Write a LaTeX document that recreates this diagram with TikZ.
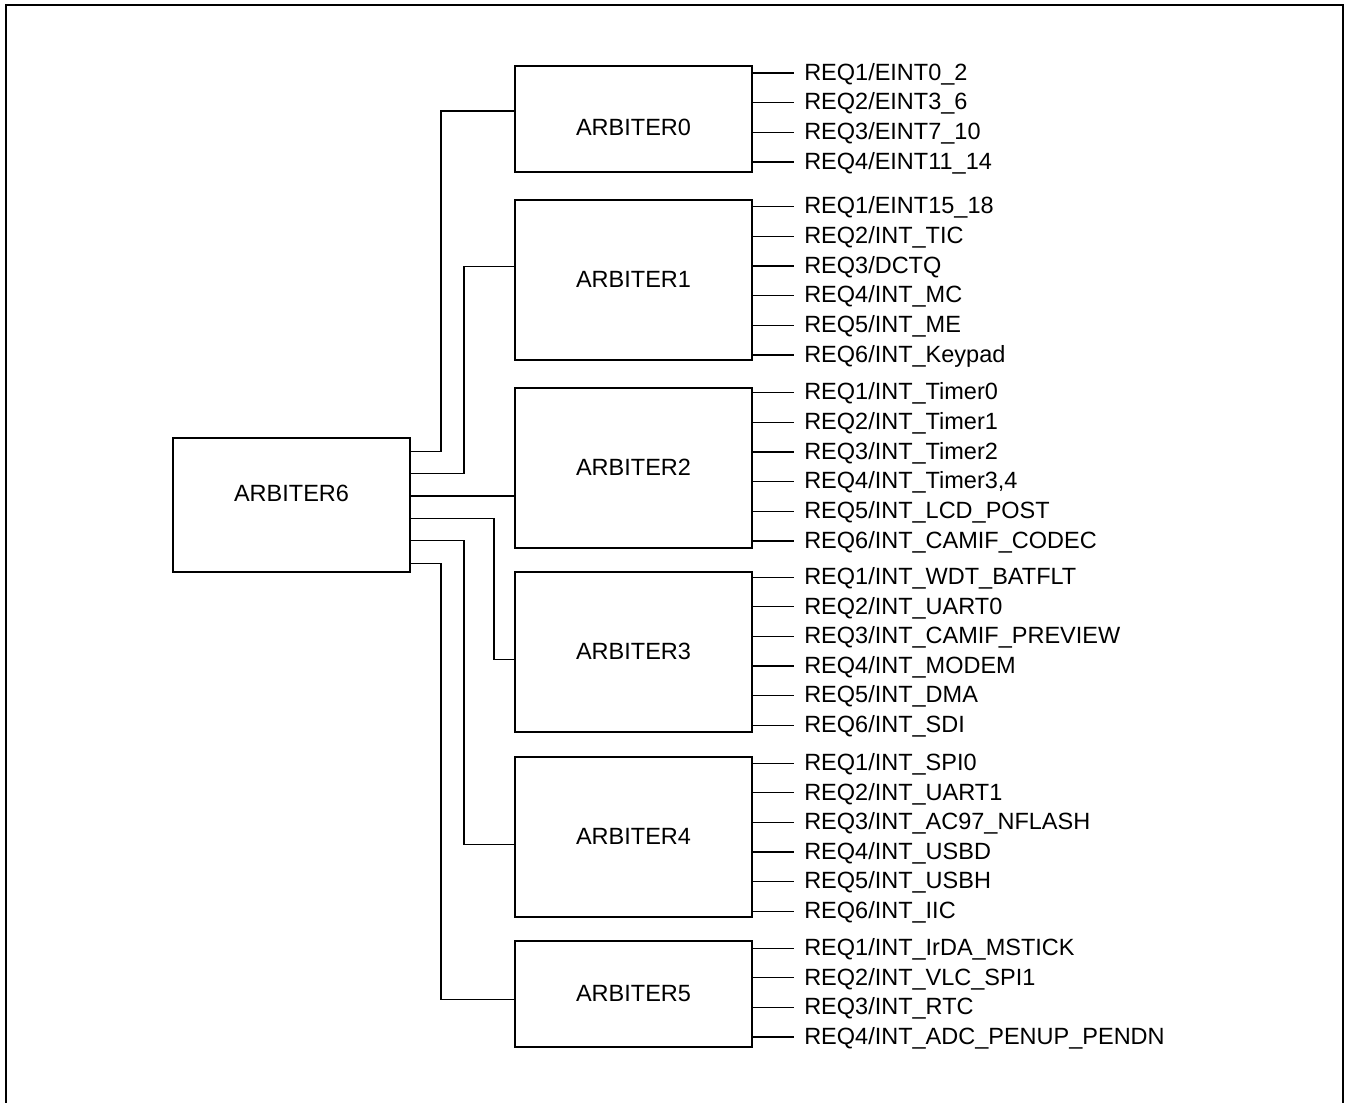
\documentclass[tikz,border=0pt]{standalone}
\usepackage{fontspec}
\setmainfont{Liberation Sans}
\usetikzlibrary{calc}
\tikzset{arb/.style={draw=black,line width=0.85pt,minimum width=118.5pt,inner sep=0pt,text height=0.9em,text depth=0.18em,font=\fontsize{11.75}{14}\selectfont},req/.style={anchor=west,inner xsep=5pt,inner ysep=0pt,text height=0.9em,text depth=0.18em,font=\fontsize{11.75}{14}\selectfont},wire/.style={line width=0.65pt}}

\begin{document}
\begin{tikzpicture}[x=0.5pt,y=-0.5pt,short/.style={arb,minimum height=53pt},tall/.style={arb,minimum height=80pt}]
\useasboundingbox (0,0) rectangle (1348,1102);
\draw[line width=1.35pt] (6,1120) -- (6,5) -- (1343,5) -- (1343,1120);
\node[arb,minimum height=67pt,text depth=12.2pt] (a6) at (291.5,505) {ARBITER6};
\node[short,text height=18pt,text depth=1.6pt] (a0) at (633.5,119) {ARBITER0};
\node[tall] (a1) at (633.5,280) {ARBITER1};
\node[tall] (a2) at (633.5,468) {ARBITER2};
\node[tall] (a3) at (633.5,652) {ARBITER3};
\node[tall] (a4) at (633.5,837) {ARBITER4};
\node[short] (a5) at (633.5,994) {ARBITER5};
% request inputs of each arbiter
\foreach \t [count=\i] in {EINT0\_2,EINT3\_6,EINT7\_10,EINT11\_14}{\node[req] (a0r\i) at ($(a0.north east)+(41,{8+(\i-1)*29.65})$) {REQ\i/\t}; \draw[wire] (a0.east |- a0r\i.west) -- (a0r\i.west);}
\foreach \t [count=\i] in {EINT15\_18,INT\_TIC,DCTQ,INT\_MC,INT\_ME,INT\_Keypad}{\node[req] (a1r\i) at ($(a1.north east)+(41,{7.5+(\i-1)*29.65})$) {REQ\i/\t}; \draw[wire] (a1.east |- a1r\i.west) -- (a1r\i.west);}
\foreach \t [count=\i] in {INT\_Timer0,INT\_Timer1,INT\_Timer2,{INT\_Timer3,4},INT\_LCD\_POST,INT\_CAMIF\_CODEC}{\node[req] (a2r\i) at ($(a2.north east)+(41,{5.5+(\i-1)*29.65})$) {REQ\i/\t}; \draw[wire] (a2.east |- a2r\i.west) -- (a2r\i.west);}
\foreach \t [count=\i] in {INT\_WDT\_BATFLT,INT\_UART0,INT\_CAMIF\_PREVIEW,INT\_MODEM,INT\_DMA,INT\_SDI}{\node[req] (a3r\i) at ($(a3.north east)+(41,{6+(\i-1)*29.65})$) {REQ\i/\t}; \draw[wire] (a3.east |- a3r\i.west) -- (a3r\i.west);}
\foreach \t [count=\i] in {INT\_SPI0,INT\_UART1,INT\_AC97\_NFLASH,INT\_USBD,INT\_USBH,INT\_IIC}{\node[req] (a4r\i) at ($(a4.north east)+(41,{7+(\i-1)*29.65})$) {REQ\i/\t}; \draw[wire] (a4.east |- a4r\i.west) -- (a4r\i.west);}
\foreach \t [count=\i] in {INT\_IrDA\_MSTICK,INT\_VLC\_SPI1,INT\_RTC,INT\_ADC\_PENUP\_PENDN}{\node[req] (a5r\i) at ($(a5.north east)+(41,{8+(\i-1)*29.65})$) {REQ\i/\t}; \draw[wire] (a5.east |- a5r\i.west) -- (a5r\i.west);}
% ARBITER6 to the six arbiters
\foreach \k in {0,...,5}{\coordinate (e\k) at ($(a6.north east)+(0,{14+\k*22.4})$);}
\coordinate (in0) at ($(a0.north west)+(0,46)$);
\coordinate (in1) at ($(a1.north west)+(0,67)$);
\coordinate (in3) at ($(a3.north west)+(0,88)$);
\coordinate (in4) at ($(a4.north west)+(0,88)$);
\coordinate (in5) at ($(a5.north west)+(0,59.5)$);
\draw[wire] (e2) -- (a2.west |- e2);
\foreach \k/\run in {0/30,1/53,3/83,4/53,5/30}{\draw[wire] (e\k) -- ++(\run,0) |- (in\k);}
\end{tikzpicture}
\end{document}
